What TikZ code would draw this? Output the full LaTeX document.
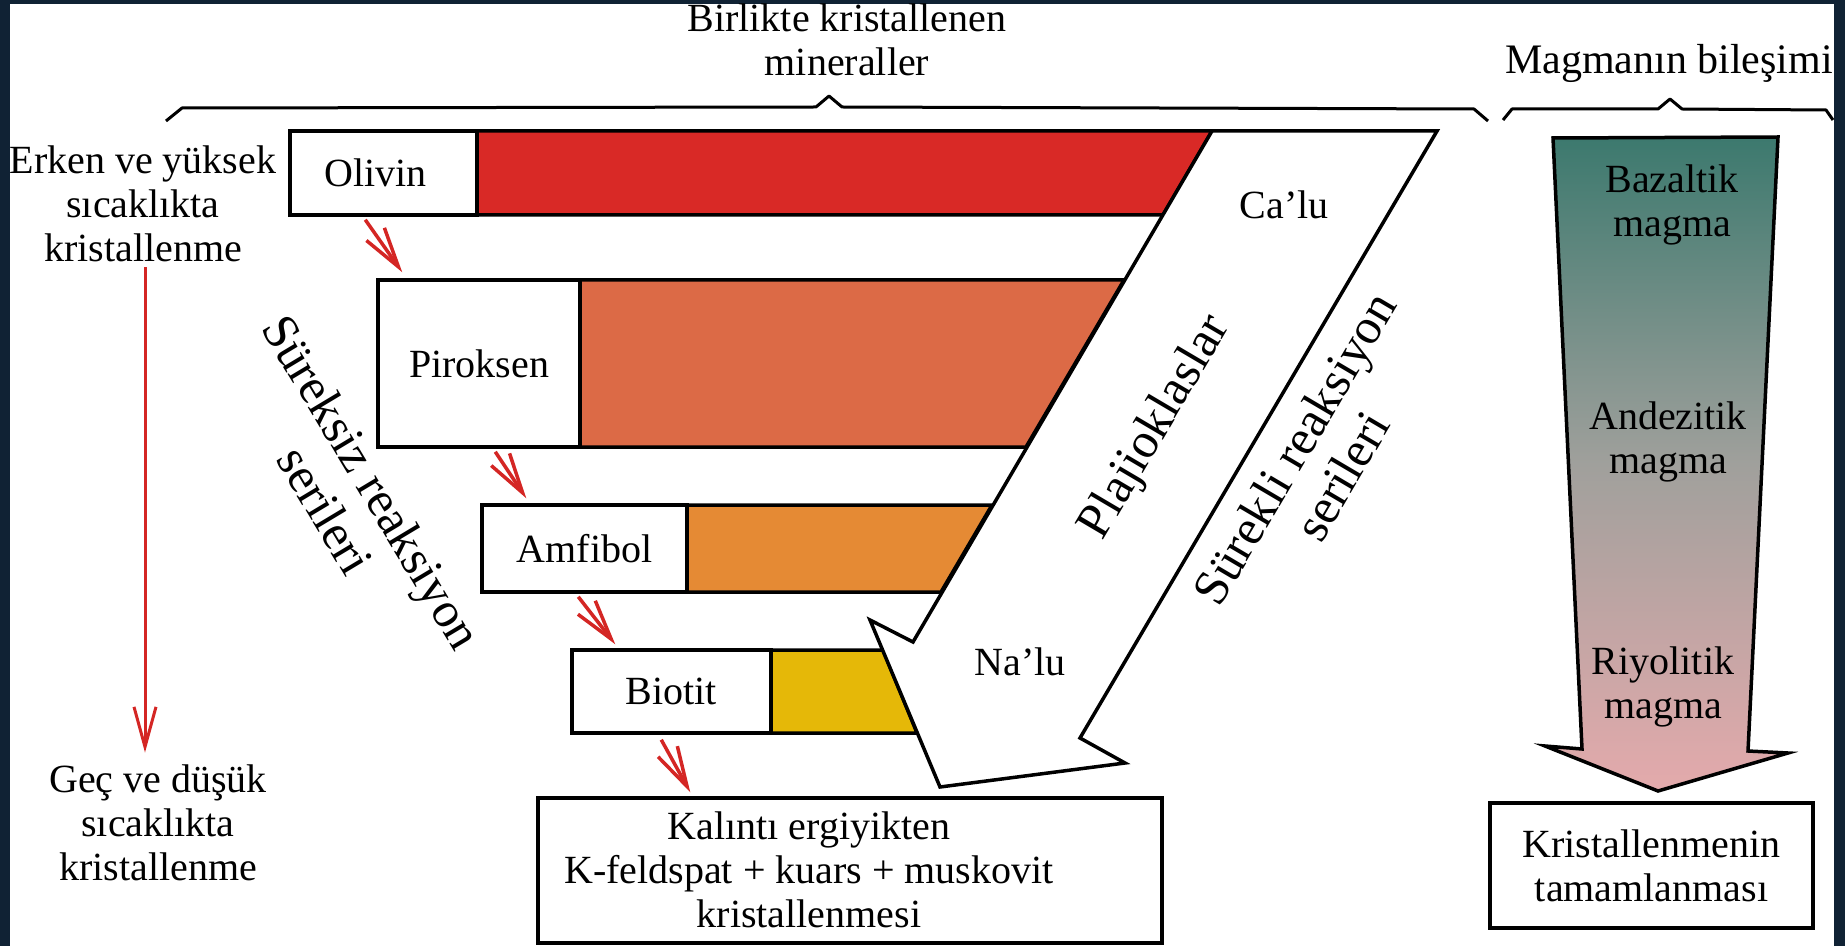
\documentclass[tikz,border=0pt]{standalone}
\usepackage{fontspec}
\setmainfont{Liberation Serif}
\usetikzlibrary{arrows.meta,calc}

\definecolor{framecol}{RGB}{16,34,52}
\definecolor{olred}{RGB}{217,41,38}
\definecolor{pirorange}{RGB}{220,106,70}
\definecolor{amforange}{RGB}{229,138,52}
\definecolor{bioyellow}{RGB}{229,184,8}
\definecolor{arrred}{RGB}{212,38,36}
\definecolor{magtop}{RGB}{60,121,110}
\definecolor{maggray}{RGB}{160,160,156}
\definecolor{magpink}{RGB}{228,170,172}

\begin{document}
\begin{tikzpicture}[x=0.5pt,y=-0.5pt,font=\fontsize{20}{22}\selectfont]
\tikzstyle{minbox}=[draw, line width=1.75pt, fill=white, inner sep=0pt]
\tikzstyle{bar}=[draw, line width=1.75pt]
\tikzstyle{redarrow}=[-{Straight Barb[length=20pt,width=11pt]}, draw=arrred, line width=1.75pt]
\tikzstyle{brace}=[draw, line width=1.5pt, line join=round]
\tikzstyle{txt}=[align=center, inner sep=0pt]
\tikzstyle{slant}=[align=center, inner sep=0pt, font=\fontsize{25}{27.5}\selectfont]

\useasboundingbox (0,0) rectangle (1845,946);
\fill[framecol] (0,0) rectangle (1845,946);
\fill[white] (10,4) rectangle (1834,946);

% braces
\draw[brace] (166,121) -- (182,108) -- (816,107) -- (829,96) -- (842,107) -- (1474,109) -- (1488,121);
\draw[brace] (1503,120) -- (1512,109) -- (1658,109) -- (1670,99) -- (1682,109) -- (1826,110) -- (1833,120);

% coloured bars
\filldraw[bar, fill=olred] (477,131) -- (1212,131) -- (1163,215) -- (477,215) -- cycle;
\filldraw[bar, fill=pirorange] (580,280) -- (1124,280) -- (1026,447) -- (580,447) -- cycle;
\filldraw[bar, fill=amforange] (687,505) -- (992,505) -- (941,592) -- (687,592) -- cycle;
\filldraw[bar, fill=bioyellow] (771,650) -- (883,650) -- (917,733) -- (771,733) -- cycle;

% plagioclase arrow
\filldraw[bar, fill=white] (1212,131) -- (1437,131) -- (1080,738) -- (1125,763) -- (940,787) -- (870,620) -- (913,642) -- cycle;

% magma arrow
\draw[bar, top color=magtop, bottom color=magpink, middle color=maggray] (1553,138) -- (1778,137) -- (1748,751) -- (1788,753) -- (1658,791) -- (1545,746) -- (1582,749) -- cycle;

\node[minbox, minimum width=93.5pt, minimum height=42pt] (olivin) at (383.5,173) {\hspace*{-8pt}Olivin};
\node[minbox, minimum width=101pt, minimum height=83.5pt] (piroksen) at (479,363.5) {Piroksen};
\node[minbox, minimum width=102.5pt, minimum height=43.5pt] (amfibol) at (584.5,548.5) {Amfibol};
\node[minbox, minimum width=99.5pt, minimum height=41.5pt] (biotit) at (671.5,691.5) {Biotit};
\node[minbox, minimum width=312pt, minimum height=72.5pt] (kalinti) at (850,870.5) {};
\node[txt] (kalintitxt) at (809,870) {Kalıntı ergiyikten\\K-feldspat + kuars + muskovit\\kristallenmesi};
\node[minbox, align=center, minimum width=161.5pt, minimum height=62.5pt] (tamam) at (1651.5,865.5) {Kristallenmenin\\tamamlanması};

\node[txt] (birlikte) at (847,40) {Birlikte kristallenen\\mineraller};
\node[txt, font=\fontsize{21}{23}\selectfont] (bilesim) at (1669,63) {Magmanın bileşimi};
\node[txt] (early) at (143,204) {Erken ve yüksek\\sıcaklıkta\\kristallenme};
\node[txt] (late) at (158,823) {Geç ve düşük\\sıcaklıkta\\kristallenme};
\node[txt] (ca) at (1284,205) {Ca’lu};
\node[txt] (na) at (1020,662) {Na’lu};
\node[txt] (bazalt) at (1672,205) {Bazaltik\\magma};
\node[txt] (andezit) at (1668,442) {Andezitik\\magma};
\node[txt] (riyolit) at (1663,687) {Riyolitik\\magma};

\node[slant, rotate=-59] (sureksiz) at (349,496) {Süreksiz reaksiyon\\serileri};
\node[slant, rotate=59.5] (plaj) at (1156,428) {Plajioklaslar};
\node[slant, rotate=59.5] (surekli) at (1318,462) {Sürekli reaksiyon\\serileri};

% red arrows
\draw[redarrow, line width=1.5pt] ($(early.south)+(2,5)$) -- ($(late.north)+(-13,-12)$);
\draw[redarrow] ($(olivin.south west)+(77,3)$) -- ($(piroksen.north west)+(26,-6)$);
\draw[redarrow] ($(piroksen.south west)+(119,3)$) -- ($(amfibol.north west)+(46,-5)$);
\draw[redarrow] ($(amfibol.south west)+(98,3)$) -- ($(biotit.north west)+(45,-4)$);
\draw[redarrow] ($(biotit.south west)+(91,5)$) -- ($(kalinti.north west)+(154,-4)$);
\end{tikzpicture}
\end{document}
